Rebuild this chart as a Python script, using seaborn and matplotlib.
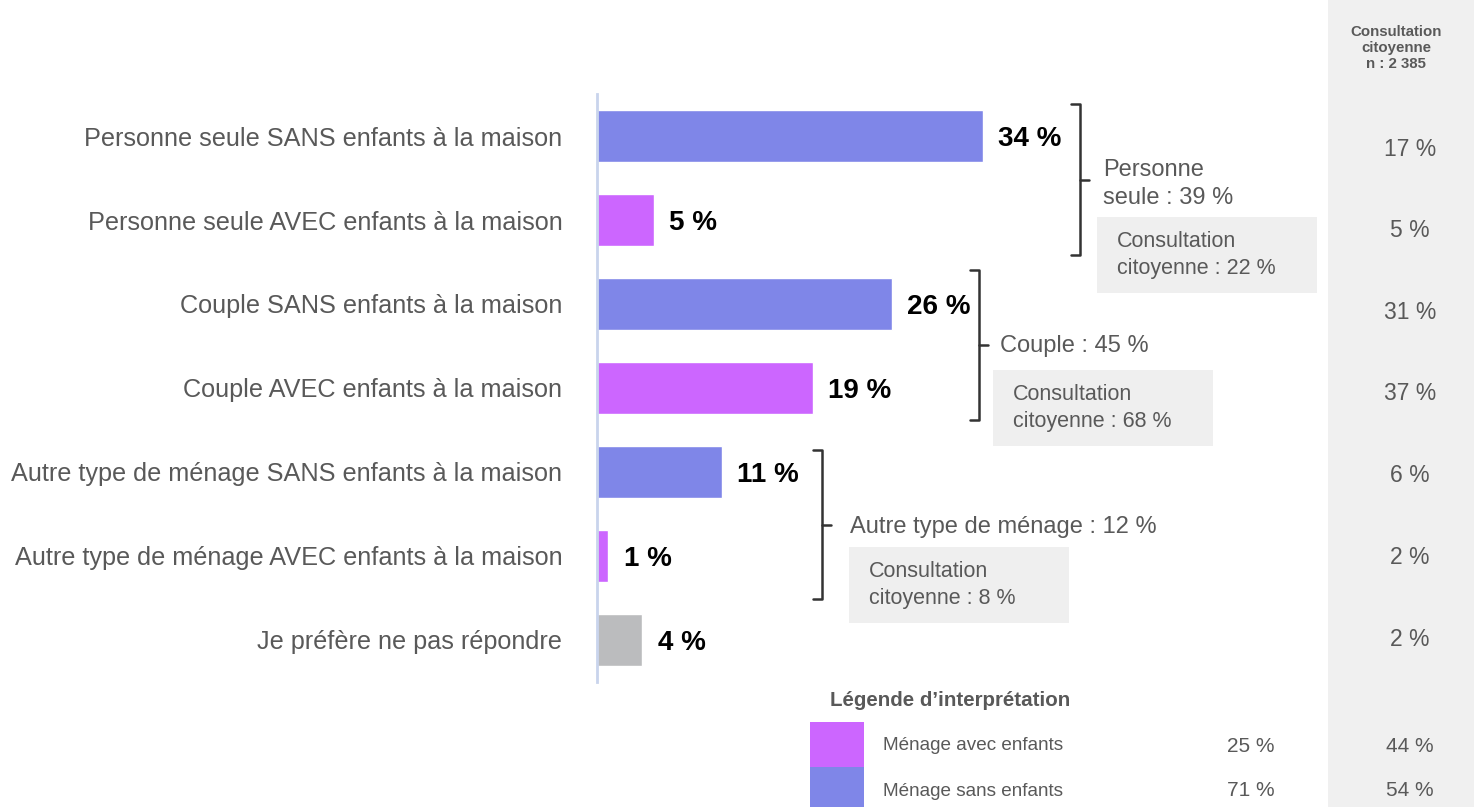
import numpy as np
import matplotlib
matplotlib.use("Agg")
import matplotlib.pyplot as plt
import matplotlib.patches as mpatches
import pandas as pd
import seaborn as sns

# data
categories = [
    "Personne seule SANS enfants à la maison",
    "Personne seule AVEC enfants à la maison",
    "Couple SANS enfants à la maison",
    "Couple AVEC enfants à la maison",
    "Autre type de ménage SANS enfants à la maison",
    "Autre type de ménage AVEC enfants à la maison",
    "Je préfère ne pas répondre",
]
values = [34, 5, 26, 19, 11, 1, 4]
consult_values = [17, 5, 31, 37, 6, 2, 2]
groups = ["sans", "avec", "sans", "avec", "sans", "avec", "nr"]

group_labels = ["Personne\nseule : 39 %", "Couple : 45 %", "Autre type de ménage : 12 %"]
group_consult = ["Consultation\ncitoyenne : 22 %", "Consultation\ncitoyenne : 68 %",
                 "Consultation\ncitoyenne : 8 %"]

legend_labels = ["Ménage avec enfants", "Ménage sans enfants"]
legend_values = [25, 71]
legend_consult = [44, 54]
consult_header = "Consultation\ncitoyenne\nn : 2 385"

colors = {"sans": "#7f86e8", "avec": "#cc66ff", "nr": "#bbbcbe"}
GREY = "#595959"

sns.set_theme(style="white")
plt.rcParams["font.family"] = ["Liberation Sans", "DejaVu Sans"]

W, H = 1474, 807
fig = plt.figure(figsize=(W / 100, H / 100), dpi=100)

# overlay in pixel coordinates for the annotations
ov = fig.add_axes([0, 0, 1, 1], zorder=0)
ov.set_xlim(0, W)
ov.set_ylim(H, 0)
ov.axis("off")

# bar axes
ax = fig.add_axes([597 / W, 1 - 682 / H, (W - 597) / W, 588 / H], zorder=1)
ax.patch.set_alpha(0)

df = pd.DataFrame({"cat": categories, "val": values, "grp": groups})
sns.barplot(data=df, x="val", y="cat", hue="grp", palette=colors, dodge=False,
            width=0.62, legend=False, ax=ax, saturation=1)
ax.set_xlim(0, (W - 597) / 11.35)
ax.set_xlabel("")
ax.set_ylabel("")
ax.set_xticks([])
ax.tick_params(axis="y", length=0, pad=25, labelsize=18.2, labelcolor=GREY)
for s in ["top", "right", "bottom"]:
    ax.spines[s].set_visible(False)
ax.spines["left"].set_color("#c9d4ec")
ax.spines["left"].set_linewidth(2)

for i, v in enumerate(values):
    ax.annotate(f"{v} %", (v, i), xytext=(11, -2), textcoords="offset points",
                ha="left", va="center", fontsize=20, fontweight="bold", color="black")

# right column
ov.add_patch(mpatches.Rectangle((1328, 0), W - 1328, H, color="#f0f0f0", lw=0))
ov.text(1396, 48, consult_header, ha="center", va="center", fontsize=10.8,
        fontweight="bold", color=GREY, linespacing=1.2)
for y, v in zip(np.linspace(149, 639, len(consult_values)), consult_values):
    ov.text(1410, y, f"{v} %", ha="center", va="center", fontsize=16.5, color=GREY)

# brackets
brackets = [(1080, 104, 255), (979, 270, 420), (822, 450, 599)]
label_pos = [(1103, 184), (1000, 346), (850, 527)]
box_pos = [(1097, 217), (993, 370), (849, 547)]
for (bx, y0, y1), (lx, ly), (px, py), gl, gc in zip(brackets, label_pos, box_pos,
                                                      group_labels, group_consult):
    ym = (y0 + y1) / 2
    ov.plot([bx - 9, bx, bx, bx - 9], [y0, y0, y1, y1], color="#333333", lw=1.8,
            solid_joinstyle="round")
    ov.plot([bx, bx + 9], [ym, ym], color="#333333", lw=1.8)
    ov.text(lx, ly, gl, ha="left", va="center", fontsize=17, color=GREY, linespacing=1.3)
    ov.add_patch(mpatches.Rectangle((px, py), 220, 76, color="#efefef", lw=0))
    ov.text(px + 20, py + 38, gc, ha="left", va="center", fontsize=15.5, color=GREY,
            linespacing=1.4)

# legend
ov.text(830, 701, "Légende d’interprétation", ha="left", va="center", fontsize=14.8,
        fontweight="bold", color=GREY)
leg_colors = [colors["avec"], colors["sans"]]
for k, (lab, v, c) in enumerate(zip(legend_labels, legend_values, legend_consult)):
    y = 746 + k * 45
    ov.add_patch(mpatches.Rectangle((810, y - 24), 54, 45, color=leg_colors[k], lw=0))
    ov.text(883, y, lab, ha="left", va="center", fontsize=13.6, color=GREY)
    ov.text(1251, y, f"{v} %", ha="center", va="center", fontsize=15, color=GREY)
    ov.text(1410, y, f"{c} %", ha="center", va="center", fontsize=15, color=GREY)

fig.savefig("out.png", dpi=100)
